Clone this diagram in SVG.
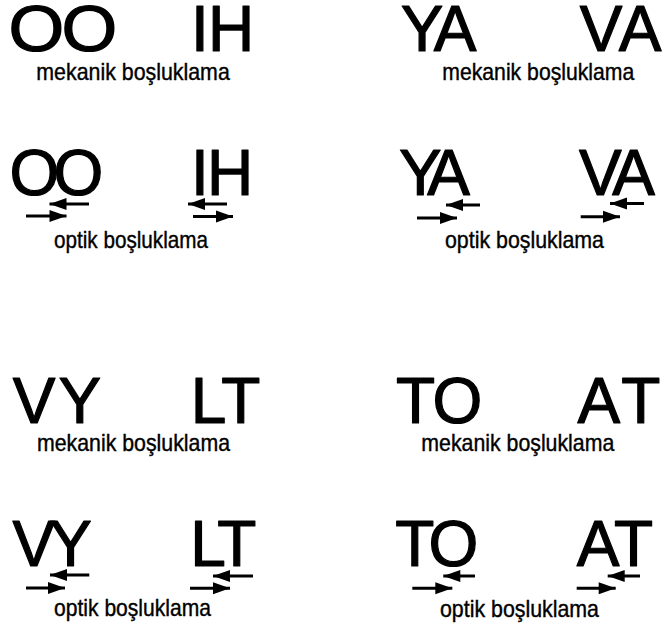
<svg xmlns="http://www.w3.org/2000/svg" width="665" height="634" viewBox="0 0 665 634">
<style>
.big{font-family:"Liberation Sans",Arial,Helvetica,sans-serif;font-size:64px;fill:#000;stroke:#000;stroke-width:1.2;stroke-linejoin:round}
.cap{font-family:"Liberation Sans",Arial,Helvetica,sans-serif;font-size:24px;fill:#000;stroke:#000;stroke-width:0.4}
.arr{stroke:#000;stroke-width:3;fill:none;marker-end:url(#head)}
</style>
<defs>
<marker id="head" markerUnits="userSpaceOnUse" markerWidth="19" markerHeight="13" viewBox="-18 -6.5 19 13" refX="0" refY="0" orient="auto">
<path d="M0,0 L-17,-6 L-17,6 Z" fill="#000"/>
</marker>
</defs>
<rect width="665" height="634" fill="#fff"/>
<g id="oo-mekanik">
<text class="big" transform="scale(1.12,1)" x="7.6 54.9" y="51">OO</text>
<text class="cap" x="36.3" y="79.5" textLength="193.5" lengthAdjust="spacingAndGlyphs">mekanik boşluklama</text>
</g>
<g id="ih-mekanik">
<text class="big" x="191 207.9" y="51">IH</text>
</g>
<g id="ya-mekanik">
<text class="big" x="400.8 433.7" y="51">YA</text>
<text class="cap" x="442.3" y="79.5" textLength="192" lengthAdjust="spacingAndGlyphs">mekanik boşluklama</text>
</g>
<g id="va-mekanik">
<text class="big" x="579.7 618.7" y="51">VA</text>
</g>
<g id="oo-optik">
<text class="big" x="9.6 53.4" y="195">OO</text>
<text class="cap" x="54" y="248" textLength="154" lengthAdjust="spacingAndGlyphs">optik boşluklama</text>
</g>
<g id="ih-optik">
<text class="big" x="191 206.9" y="195">IH</text>
</g>
<g id="ya-optik">
<text class="big" x="399.1 427.2" y="195">YA</text>
<text class="cap" x="445" y="248" textLength="159" lengthAdjust="spacingAndGlyphs">optik boşluklama</text>
</g>
<g id="va-optik">
<text class="big" x="579 612.2" y="195">VA</text>
</g>
<g id="vy-mekanik">
<text class="big" x="12.7 58.5" y="423">VY</text>
<text class="cap" x="37" y="450.5" textLength="193" lengthAdjust="spacingAndGlyphs">mekanik boşluklama</text>
</g>
<g id="lt-mekanik">
<text class="big" x="190.8 221.3" y="423">LT</text>
</g>
<g id="to-mekanik">
<text class="big" x="396.1 432.4" y="423">TO</text>
<text class="cap" x="421.3" y="451" textLength="193" lengthAdjust="spacingAndGlyphs">mekanik boşluklama</text>
</g>
<g id="at-mekanik">
<text class="big" x="577.6 621.3" y="423">AT</text>
</g>
<g id="vy-optik">
<text class="big" x="12.4 49.2" y="566">VY</text>
<text class="cap" x="54" y="616" textLength="157" lengthAdjust="spacingAndGlyphs">optik boşluklama</text>
</g>
<g id="lt-optik">
<text class="big" x="190.3 217.3" y="566">LT</text>
</g>
<g id="to-optik">
<text class="big" x="395.3 428.4" y="566">TO</text>
<text class="cap" x="440" y="617" textLength="159" lengthAdjust="spacingAndGlyphs">optik boşluklama</text>
</g>
<g id="at-optik">
<text class="big" x="576.8 614" y="566">AT</text>
</g>
<g id="connectors">
<path class="arr" d="M89,204 H49.5"/>
<path class="arr" d="M26,216 H66.5"/>
<path class="arr" d="M227,204 H188"/>
<path class="arr" d="M193,216.5 H233"/>
<path class="arr" d="M480,205 H446"/>
<path class="arr" d="M417,218 H457"/>
<path class="arr" d="M644,203.5 H610"/>
<path class="arr" d="M580.7,216.7 H620"/>
<path class="arr" d="M89.3,575 H50"/>
<path class="arr" d="M26,588 H65"/>
<path class="arr" d="M253,576 H213"/>
<path class="arr" d="M190,588.3 H230"/>
<path class="arr" d="M475,576 H443.3"/>
<path class="arr" d="M412.3,588.3 H452.3"/>
<path class="arr" d="M640,576 H607.7"/>
<path class="arr" d="M576.7,588.3 H615.7"/>
</g>
</svg>
